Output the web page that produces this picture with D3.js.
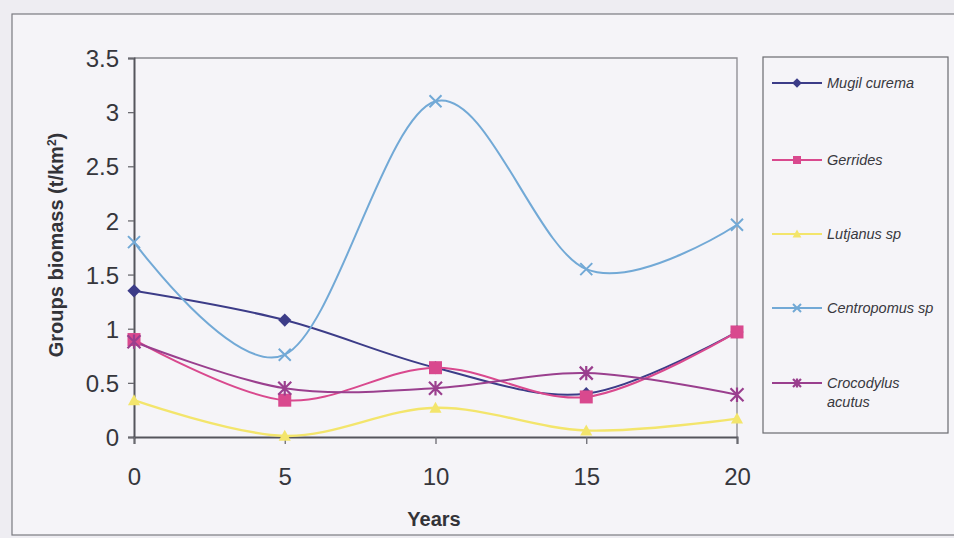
<!DOCTYPE html>
<html><head><meta charset="utf-8">
<script src="https://cdn.jsdelivr.net/npm/d3@7"></script>
<style>
html,body{margin:0;padding:0;background:#eeedf2;}
svg{display:block;font-family:"Liberation Sans",Arial,sans-serif;}
</style></head>
<body>
<svg id="c" width="954" height="538"></svg>
<script>
const years = [0, 5, 10, 15, 20];
const seriesNames = ["Mugil curema", "Gerrides", "Lutjanus sp", "Centropomus sp", "Crocodylus acutus"];
const mugilCurema = [1.35, 1.08, 0.64, 0.40, 0.97];
const gerrides = [0.90, 0.34, 0.64, 0.37, 0.97];
const lutjanusSp = [0.34, 0.01, 0.27, 0.06, 0.17];
const centropomusSp = [1.80, 0.76, 3.10, 1.55, 1.96];
const crocodylusAcutus = [0.88, 0.45, 0.45, 0.59, 0.39];
const yTicks = [0, 0.5, 1, 1.5, 2, 2.5, 3, 3.5];
const xTicks = [0, 5, 10, 15, 20];

const seriesValues = [mugilCurema, gerrides, lutjanusSp, centropomusSp, crocodylusAcutus];
const colors = ["#3c3c88", "#d9498e", "#f3e56c", "#72a9d6", "#9a3f8e"];
const shapes = ["diamond", "square", "triangle", "x", "star"];

const svg = d3.select("#c");
// chart outer frame
svg.append("rect").attr("x", 12).attr("y", 14).attr("width", 960).attr("height", 521)
  .attr("fill", "#f5f4f8").attr("stroke", "#7a7a80").attr("stroke-width", 1.2);

const L = 134, R = 737, T = 58, B = 437;
const x = d3.scaleLinear().domain([0, 20]).range([L, R]);
const y = d3.scaleLinear().domain([0, 3.5]).range([B, T]);

// plot area border (top/right)
svg.append("path").attr("d", `M${L},${T}H${R}V${B}`).attr("fill", "none")
  .attr("stroke", "#8a8a90").attr("stroke-width", 1.3);

const yAxis = svg.append("g").attr("transform", `translate(${L},0)`)
  .call(d3.axisLeft(y).tickValues(yTicks).tickFormat(d3.format("")).tickSize(6).tickPadding(9));
const xAxis = svg.append("g").attr("transform", `translate(0,${B})`)
  .call(d3.axisBottom(x).tickValues(xTicks).tickFormat(d3.format("d")).tickSize(7).tickPadding(24));
[yAxis, xAxis].forEach(a => {
  a.select(".domain").attr("stroke", "#55555c").attr("stroke-width", 2);
  a.selectAll(".tick line").attr("stroke", "#6a6a70").attr("stroke-width", 1.3);
  a.selectAll("text").attr("fill", "#36363c").attr("font-size", 24)
    .attr("font-family", "'Liberation Sans',Arial,sans-serif");
});
yAxis.selectAll("text").attr("dy", "0.36em");

// axis titles
svg.append("text").attr("transform", "translate(63,245) rotate(-90)")
  .attr("text-anchor", "middle").attr("font-weight", "bold").attr("font-size", 20).attr("fill", "#333338")
  .text("Groups biomass (t/km").append("tspan").attr("baseline-shift", "super").attr("font-size", 12).text("2")
  .select(function(){ return this.parentNode; }).append("tspan").text(")");
svg.append("text").attr("x", 434).attr("y", 526).attr("text-anchor", "middle")
  .attr("font-weight", "bold").attr("font-size", 20).attr("fill", "#333338").text("Years");

function marker(g, shape, color, cx, cy, s) {
  if (shape === "diamond") {
    g.append("path").attr("d", `M${cx},${cy-s*0.6}L${cx+s*0.6},${cy}L${cx},${cy+s*0.6}L${cx-s*0.6},${cy}Z`).attr("fill", color);
  } else if (shape === "square") {
    g.append("rect").attr("x", cx-s/2).attr("y", cy-s/2).attr("width", s).attr("height", s).attr("fill", color);
  } else if (shape === "triangle") {
    g.append("path").attr("d", `M${cx},${cy-s*0.55}L${cx+s*0.55},${cy+s*0.45}L${cx-s*0.55},${cy+s*0.45}Z`).attr("fill", color);
  } else if (shape === "x") {
    const h = s/2;
    g.append("path").attr("d", `M${cx-h},${cy-h}L${cx+h},${cy+h}M${cx+h},${cy-h}L${cx-h},${cy+h}`)
      .attr("stroke", color).attr("stroke-width", 2).attr("fill", "none");
  } else if (shape === "star") {
    const h = s/2;
    g.append("path").attr("d", `M${cx-h},${cy-h}L${cx+h},${cy+h}M${cx+h},${cy-h}L${cx-h},${cy+h}M${cx},${cy-h*1.1}V${cy+h*1.1}`)
      .attr("stroke", color).attr("stroke-width", 2.2).attr("fill", "none");
  }
}
const sizes = [11, 13, 11, 12, 13];

const line = d3.line().x((d, i) => x(years[i])).y(d => y(d)).curve(d3.curveCardinal.tension(0));
seriesValues.forEach((vals, si) => {
  const g = svg.append("g");
  g.append("path").datum(vals).attr("d", line).attr("fill", "none")
    .attr("stroke", colors[si]).attr("stroke-width", si === 2 ? 2.4 : 2);
});
seriesValues.forEach((vals, si) => {
  const g = svg.append("g");
  vals.forEach((v, i) => marker(g, shapes[si], colors[si], x(years[i]), y(v), sizes[si]));
});

// legend
svg.append("rect").attr("x", 763).attr("y", 57).attr("width", 185).attr("height", 376)
  .attr("fill", "none").attr("stroke", "#6a6a70").attr("stroke-width", 1.2);
const legY = [83, 160, 234, 308, 383];
seriesNames.forEach((n, si) => {
  const g = svg.append("g");
  g.append("line").attr("x1", 772).attr("x2", 822).attr("y1", legY[si]).attr("y2", legY[si])
    .attr("stroke", colors[si]).attr("stroke-width", 2);
  marker(g, shapes[si], colors[si], 797, legY[si], 8);
  const t = g.append("text").attr("x", 827).attr("y", legY[si] + 5).attr("font-style", "italic")
    .attr("font-size", 14.5).attr("fill", "#38383e");
  if (n === "Crocodylus acutus") {
    t.append("tspan").text("Crocodylus");
    t.append("tspan").attr("x", 827).attr("dy", 19).text("acutus");
  } else t.text(n);
});
</script>
</body></html>
